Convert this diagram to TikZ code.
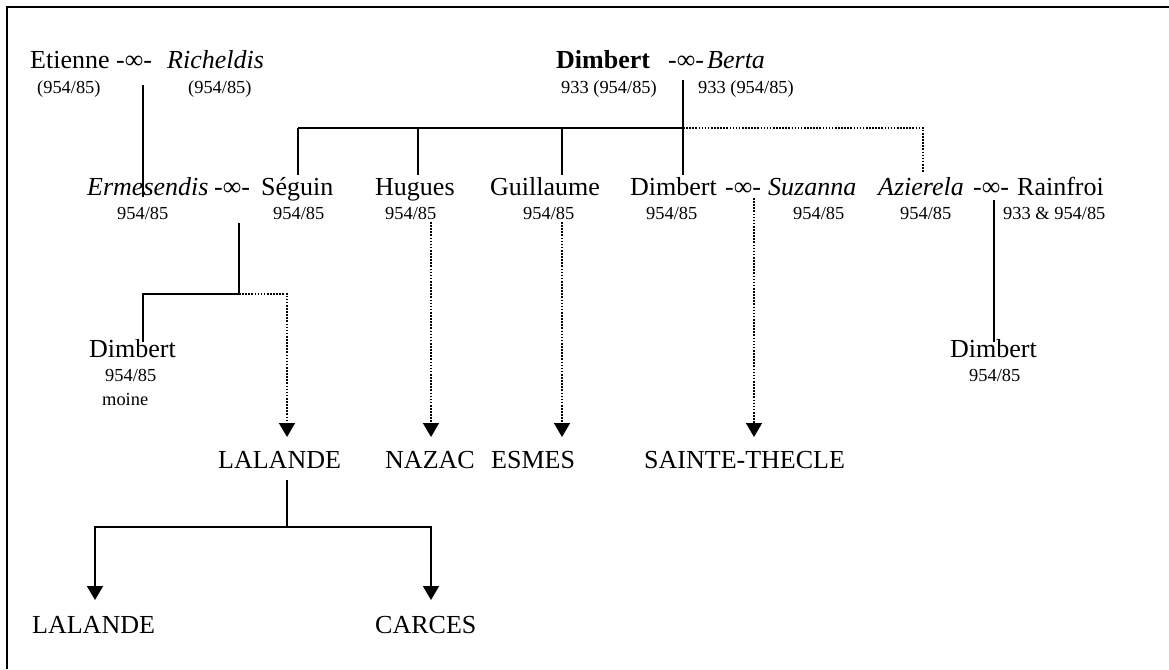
\documentclass[tikz,border=0pt]{standalone}
\usepackage{fontspec}
\setmainfont{Liberation Serif}
\usetikzlibrary{arrows.meta}
\begin{document}
\begin{tikzpicture}[x=1pt,y=-1pt,
  person/.style={anchor=base west,inner sep=0pt,font=\fontsize{26}{30}\selectfont},
  refno/.style={anchor=base west,inner sep=0pt,font=\fontsize{18.4}{22}\selectfont},
  link/.style={line width=1.8pt},
  branch/.style={line width=1.6pt,dash pattern=on 1.6pt off 1.5pt},
  arrowend/.style={-{Triangle[width=16pt,length=14pt]}}]
\useasboundingbox (0,0) rectangle (1169,669);
% frame
\draw[line width=2pt] (7,669) -- (7,7) -- (1169,7);

% first generation
\node[person] (etienne) at (30,69) {Etienne};
\node[person] (m1) at (116,69) {-∞-};
\node[person] (richeldis) at (167,69) {\textit{Richeldis}};
\node[refno] (r-etienne) at (37,93) {(954/85)};
\node[refno] (r-richeldis) at (188,93) {(954/85)};
\node[person] (dimbert0) at (556,69) {\textbf{Dimbert}};
\node[person] (m2) at (668,69) {-∞-};
\node[person] (berta) at (707,69) {\textit{Berta}};
\node[refno] (r-dimbert0) at (561,93) {933 (954/85)};
\node[refno] (r-berta) at (698,93) {933 (954/85)};

% second generation
\node[person] (ermesendis) at (87,195) {\textit{Ermesendis}};
\node[person] (m3) at (214,195) {-∞-};
\node[person] (seguin) at (261,195) {Séguin};
\node[refno] (r-ermesendis) at (117,219) {954/85};
\node[refno] (r-seguin) at (273,219) {954/85};
\node[person] (hugues) at (375,195) {Hugues};
\node[refno] (r-hugues) at (385,219) {954/85};
\node[person] (guillaume) at (490,195) {Guillaume};
\node[refno] (r-guillaume) at (523,219) {954/85};
\node[person] (dimbert1) at (630,195) {Dimbert};
\node[person] (m4) at (725,195) {-∞-};
\node[person] (suzanna) at (768,195) {\textit{Suzanna}};
\node[refno] (r-dimbert1) at (646,219) {954/85};
\node[refno] (r-suzanna) at (793,219) {954/85};
\node[person] (azierela) at (878,195) {\textit{Azierela}};
\node[person] (m5) at (973,195) {-∞-};
\node[person] (rainfroi) at (1017,195) {Rainfroi};
\node[refno] (r-azierela) at (900,219) {954/85};
\node[refno] (r-rainfroi) at (1003,219) {933 \& 954/85};

% third generation
\node[person] (dimbert2) at (89,357) {Dimbert};
\node[refno] (r-dimbert2) at (105,381) {954/85};
\node[refno] (moine) at (102,405) {moine};
\node[person] (dimbert3) at (950,357) {Dimbert};
\node[refno] (r-dimbert3) at (969,381) {954/85};

% lordships
\node[person] (lalande) at (218,468) {LALANDE};
\node[person] (nazac) at (385,468) {NAZAC};
\node[person] (esmes) at (491,468) {ESMES};
\node[person] (thecle) at (644,468) {SAINTE-THECLE};
\node[person] (lalande2) at (32,633) {LALANDE};
\node[person] (carces) at (375,633) {CARCES};

% junction points
\coordinate (er-top) at (143,85);
\coordinate (er-bot) at (143,197);
\coordinate (bar-l) at (298,128);
\coordinate (bar-r) at (683,128);
\coordinate (db-top) at (683,80);
\coordinate (db-bot) at (683,175);
\coordinate (hu-bar) at (418,128);
\coordinate (gu-bar) at (562,128);
\coordinate (az-top) at (923,172);
\coordinate (sg-top) at (239,223);
\coordinate (sg-mid) at (239,294);
\coordinate (d2-top) at (143,342);
\coordinate (la-tip) at (287,437);
\coordinate (hu-top) at (431,222);
\coordinate (hu-tip) at (431,437);
\coordinate (gu-top) at (562,222);
\coordinate (gu-tip) at (562,437);
\coordinate (su-top) at (754,198);
\coordinate (su-tip) at (754,437);
\coordinate (ra-top) at (994,200);
\coordinate (d3-top) at (994,342);
\coordinate (ll-top) at (287,480);
\coordinate (ll-mid) at (287,527);
\coordinate (ll2-tip) at (95,600);
\coordinate (ca-tip) at (431,600);

% marriage of Etienne and Richeldis
\draw[link] (er-top) -- (er-bot);
% children of Dimbert and Berta
\draw[link] (db-top) -- (db-bot);
\draw[link] (bar-l) -- (bar-r);
\draw[link] (bar-l) -- (bar-l |- db-bot);
\draw[link] (hu-bar) -- (hu-bar |- db-bot);
\draw[link] (gu-bar) -- (gu-bar |- db-bot);
\draw[branch] (bar-r) -| (az-top);
% descendants of Séguin
\draw[link] (sg-top) -- (sg-mid) -| (d2-top);
\draw[branch,arrowend] (sg-mid) -| (la-tip);
% lines to the lordships
\draw[branch,arrowend] (hu-top) -- (hu-tip);
\draw[branch,arrowend] (gu-top) -- (gu-tip);
\draw[branch,arrowend] (su-top) -- (su-tip);
% son of Rainfroi
\draw[link] (ra-top) -- (d3-top);
% LALANDE split
\draw[link] (ll-top) -- (ll-mid);
\draw[link,arrowend] (ll-mid) -| (ll2-tip);
\draw[link,arrowend] (ll-mid) -| (ca-tip);
\end{tikzpicture}
\end{document}
